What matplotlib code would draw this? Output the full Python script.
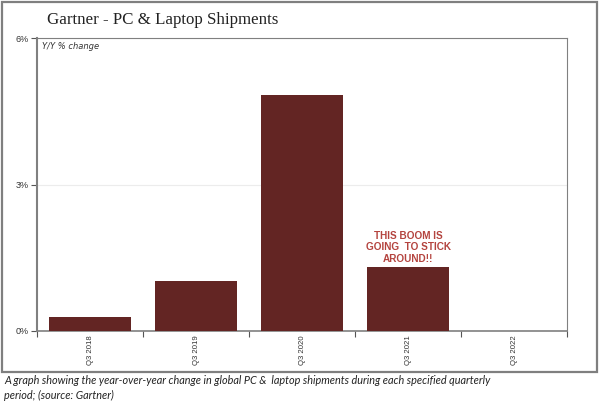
import numpy as np
import matplotlib.pyplot as plt
from matplotlib.patches import Rectangle

quarters = ["Q3 2018", "Q3 2019", "Q3 2020", "Q3 2021", "Q3 2022"]
yoy_change = [0.29, 1.02, 4.84, 1.31, 0.0]  # Y/Y % change
y_ticks = [0, 3, 6]
y_labels = ["0%", "3%", "6%"]

fig = plt.figure(figsize=(6.0, 4.09), dpi=100)
fig.patches.append(Rectangle((2/600, 1 - 372/409), 595/600, 370/409,
                             transform=fig.transFigure, fill=False,
                             edgecolor="#7f7f7f", linewidth=1.6))

ax = fig.add_axes([37/600, 1 - 331/409, 530/600, 293/409])
x = np.arange(len(quarters))
ax.bar(x, yoy_change, width=0.78, color="#632523", zorder=3)

ax.set_xlim(-0.5, len(quarters) - 0.5)
ax.set_ylim(0, 6)
ax.set_yticks(y_ticks)
ax.set_yticklabels(y_labels, fontsize=6.5, color="#333333",
                   family="Liberation Sans")
ax.yaxis.grid(True, color="#ececec", linewidth=0.8, zorder=0)

# category labels between boundary ticks
ax.set_xticks(np.arange(-0.5, len(quarters), 1))
ax.set_xticklabels([])
ax.set_xticks(x, minor=True)
ax.set_xticklabels(quarters, minor=True, rotation=90, fontsize=5.6,
                   color="#333333", family="Liberation Sans")
ax.tick_params(axis="x", which="minor", length=0, pad=3)
ax.tick_params(axis="x", which="major", length=4, direction="out", color="#555555")
ax.tick_params(axis="y", length=4, direction="out", color="#555555", pad=2)

for side in ["left", "bottom", "right", "top"]:
    ax.spines[side].set_color("#808080")
ax.spines["left"].set_linewidth(1.5)
ax.spines["bottom"].set_linewidth(1.2)
ax.spines["top"].set_linewidth(0.8)
ax.spines["right"].set_linewidth(0.8)

ax.text(0.01, 0.985, "Y/Y % change", transform=ax.transAxes, fontsize=6,
        style="italic", va="top", ha="left", color="#333333")

ax.text(3, yoy_change[3] + 0.07, "THIS BOOM IS\nGOING  TO STICK\nAROUND!!",
        ha="center", va="bottom", fontsize=7.2, fontweight="bold",
        family="Liberation Sans", color="#b4443f", linespacing=1.15)

fig.text(163/600, 1 - 20/409, "Gartner - PC & Laptop Shipments", fontsize=12.2,
         family="Liberation Serif", ha="center", va="center", color="#222222")

fig.text(4/600, 1 - 388/409,
         "A graph showing the year-over-year change in global PC &  laptop shipments during each specified quarterly\nperiod; (source: Gartner)",
         fontsize=7.8, style="italic", ha="left", va="center", color="#222222",
         family="Lato", linespacing=1.4)

fig.savefig("out.png", dpi=100)
